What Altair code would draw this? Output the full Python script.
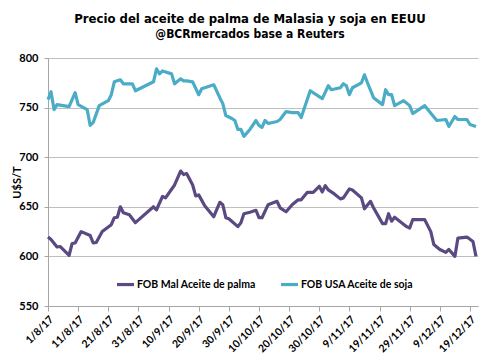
import altair as alt
import pandas as pd

soy_dates = ["2017-08-01","2017-08-02","2017-08-03","2017-08-04","2017-08-08","2017-08-10","2017-08-11",
             "2017-08-14","2017-08-15","2017-08-16","2017-08-18","2017-08-21","2017-08-22","2017-08-23",
             "2017-08-25","2017-08-26","2017-08-29","2017-08-30","2017-09-05","2017-09-06","2017-09-07",
             "2017-09-08","2017-09-11","2017-09-12","2017-09-14","2017-09-15","2017-09-16","2017-09-18",
             "2017-09-20","2017-09-21","2017-09-25","2017-09-27","2017-09-28","2017-09-29","2017-10-01",
             "2017-10-02","2017-10-03","2017-10-04","2017-10-05","2017-10-07","2017-10-09","2017-10-10",
             "2017-10-11","2017-10-12","2017-10-13","2017-10-16","2017-10-17","2017-10-19","2017-10-21",
             "2017-10-23","2017-10-24","2017-10-27","2017-10-31","2017-11-02","2017-11-03","2017-11-06",
             "2017-11-07","2017-11-08","2017-11-09","2017-11-10","2017-11-13","2017-11-14","2017-11-15",
             "2017-11-17","2017-11-20","2017-11-21","2017-11-22","2017-11-23","2017-11-24","2017-11-27",
             "2017-11-29","2017-11-30","2017-12-04","2017-12-05","2017-12-08","2017-12-11","2017-12-12",
             "2017-12-14","2017-12-15","2017-12-18","2017-12-19","2017-12-21"]
soy_vals = [758,766,748,753,751,765,753,
            748,732,735,752,757,763,776,
            778,774,774,767,776,789,784,
            787,784,774,779,777,777,776,
            763,769,773,760,754,742,739,
            737,728,728,721,728,737,732,
            730,737,734,736,738,746,745,
            745,740,767,759,772,768,770,
            774,772,763,770,775,783,775,
            760,753,768,763,763,752,757,
            752,744,752,748,737,738,731,
            741,738,738,733,731]

palm_dates = ["2017-08-01","2017-08-02","2017-08-04","2017-08-05","2017-08-08","2017-08-09","2017-08-10",
              "2017-08-12","2017-08-15","2017-08-16","2017-08-17","2017-08-19","2017-08-22","2017-08-23",
              "2017-08-24","2017-08-25","2017-08-26","2017-08-28","2017-08-30","2017-09-05","2017-09-06",
              "2017-09-08","2017-09-09","2017-09-12","2017-09-14","2017-09-15","2017-09-16","2017-09-18",
              "2017-09-19","2017-09-20","2017-09-22","2017-09-25","2017-09-27","2017-09-28","2017-09-29",
              "2017-09-30","2017-10-03","2017-10-04","2017-10-05","2017-10-07","2017-10-09","2017-10-10",
              "2017-10-11","2017-10-13","2017-10-16","2017-10-17","2017-10-19","2017-10-21","2017-10-23",
              "2017-10-24","2017-10-26","2017-10-28","2017-10-30","2017-10-31","2017-11-01","2017-11-02",
              "2017-11-04","2017-11-06","2017-11-07","2017-11-09","2017-11-10","2017-11-13","2017-11-14",
              "2017-11-16","2017-11-17","2017-11-20","2017-11-21","2017-11-22","2017-11-23","2017-11-24",
              "2017-11-28","2017-11-29","2017-11-30","2017-12-04","2017-12-06","2017-12-07","2017-12-09",
              "2017-12-11","2017-12-12","2017-12-14","2017-12-15","2017-12-18","2017-12-20","2017-12-21"]
palm_vals = [619.5,617,609.5,610,601,613,613.5,
             625,621,613.5,614,625,632,639,
             639.5,650,644,642,634,650,647,
             660.5,659,672,686,682.5,683.5,672,
             661,662,651,640,654.5,652,639,
             638,630,634,643,644.5,646.5,639,
             639,652,655.5,649,645,652,657,
             657,664.5,664.5,670.7,665,671.4,667,
             663,658,659,668,667,659,648,
             655.5,649,633,633,643,635.5,639.5,
             630,628.6,637,637,625,612,607,
             604,607,600,618.5,619.5,615,600]

series_names = ["FOB Mal Aceite de palma", "FOB USA Aceite de soja"]
series_colors = ["#5B4A82", "#4BACC6"]

tick_dates = [(8, 1), (8, 11), (8, 21), (8, 31), (9, 10), (9, 20), (9, 30), (10, 10),
              (10, 20), (10, 30), (11, 9), (11, 19), (11, 29), (12, 9), (12, 19)]

df = pd.concat([
    pd.DataFrame({"fecha": [d + "T00:00:00" for d in palm_dates], "valor": palm_vals, "serie": series_names[0]}),
    pd.DataFrame({"fecha": [d + "T00:00:00" for d in soy_dates], "valor": soy_vals, "serie": series_names[1]}),
])

LBL_FONT = "Lato"
TITLE_FONT = "Liberation Sans Narrow, DejaVu Sans Condensed, Roboto"

chart = alt.Chart(df).mark_line(strokeWidth=3.2, strokeJoin="round").encode(
    x=alt.X("fecha:T",
            scale=alt.Scale(domain=[alt.DateTime(year=2017, month=8, date=1),
                                    alt.DateTime(year=2017, month=12, date=21, hours=16)]),
            axis=alt.Axis(values=[alt.DateTime(year=2017, month=m, date=d) for m, d in tick_dates],
                          format="%-d/%-m/%y", labelAngle=-45, labelAlign="right",
                          labelBaseline="top", grid=False, domainColor="#A6A6A6",
                          tickColor="#A6A6A6", tickSize=5, labelPadding=3,
                          labelFont=LBL_FONT, labelFontWeight="bold", labelFontSize=10.5,
                          labelColor="#000000", title=None, labelOverlap=False)),
    y=alt.Y("valor:Q",
            scale=alt.Scale(domain=[550, 800], nice=False, zero=False),
            axis=alt.Axis(values=[550, 600, 650, 700, 750, 800], gridColor="#BFBFBF",
                          domainColor="#A6A6A6", tickColor="#A6A6A6", tickSize=4,
                          labelPadding=6, labelFont=LBL_FONT, labelFontWeight="bold",
                          labelFontSize=11, labelColor="#000000",
                          title="U$S/T", titleFont=LBL_FONT, titleFontWeight="bold",
                          titleFontSize=11, titleColor="#000000",
                          titleX=-31, titleY=124, titleAngle=270,
                          titleAlign="center", titleBaseline="middle")),
    color=alt.Color("serie:N",
                    scale=alt.Scale(domain=series_names, range=series_colors),
                    legend=alt.Legend(orient="none", legendX=67, legendY=216, direction="horizontal",
                                      title=None, symbolType="stroke", symbolStrokeWidth=3.2,
                                      symbolSize=289, labelFont=LBL_FONT, labelFontWeight="bold",
                                      labelFontSize=10.5, labelColor="#000000", columnPadding=18,
                                      labelOffset=1)),
).properties(
    width=430, height=248,
    padding={"left": 40, "top": 50, "right": 14, "bottom": 49},
    autosize=alt.AutoSizeParams(type="none"),
    title=alt.TitleParams(text="Precio del aceite de palma de Malasia y soja en EEUU",
                          subtitle="@BCRmercados base a Reuters",
                          anchor="middle", font=TITLE_FONT, fontSize=13, fontWeight="bold",
                          subtitleFont=TITLE_FONT, subtitleFontSize=12, subtitleFontWeight="bold",
                          color="#000000", subtitleColor="#000000", offset=12, subtitlePadding=3,
                          dx=-13),
).configure_view(stroke=None)

chart.save("out.html", embed_options={"renderer": "svg", "actions": False})
